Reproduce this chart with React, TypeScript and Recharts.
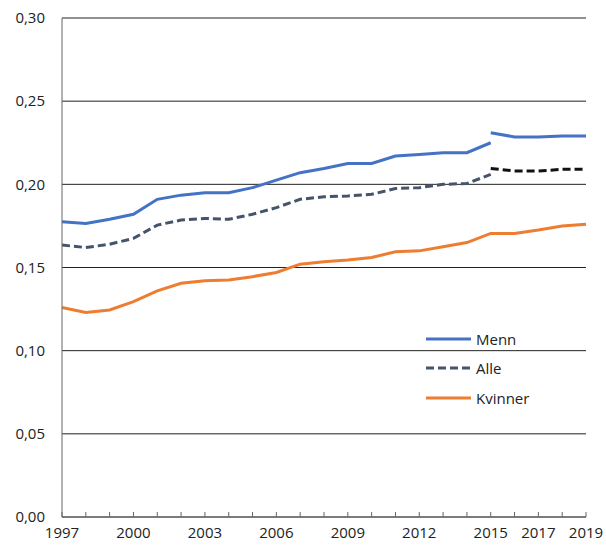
import React from 'react';
import { LineChart, Line, XAxis, YAxis, CartesianGrid } from 'recharts';

// Categories and tick values
const years = [
  1997, 1998, 1999, 2000, 2001, 2002, 2003, 2004, 2005, 2006, 2007, 2008,
  2009, 2010, 2011, 2012, 2013, 2014, 2015, 2016, 2017, 2018, 2019,
];
const labelledYears = [1997, 2000, 2003, 2006, 2009, 2012, 2015, 2017, 2019];
const yTicks = [0, 0.05, 0.1, 0.15, 0.2, 0.25, 0.3];

// Series values (break in the series at 2015)
const mennBefore = [
  0.1775, 0.1765, 0.179, 0.182, 0.191, 0.1935, 0.195, 0.195, 0.198, 0.2025,
  0.207, 0.2095, 0.2125, 0.2125, 0.217, 0.218, 0.219, 0.219, 0.225,
];
const mennAfter = [0.231, 0.2285, 0.2285, 0.229, 0.229];
const alleBefore = [
  0.1635, 0.162, 0.164, 0.1675, 0.1755, 0.1785, 0.1795, 0.179, 0.182, 0.186,
  0.191, 0.1925, 0.193, 0.194, 0.1975, 0.198, 0.2, 0.2005, 0.206,
];
const alleAfter = [0.2095, 0.208, 0.208, 0.209, 0.209];
const kvinner = [
  0.126, 0.123, 0.1245, 0.1295, 0.136, 0.1405, 0.142, 0.1425, 0.1445, 0.147,
  0.152, 0.1535, 0.1545, 0.156, 0.1595, 0.16, 0.1625, 0.165, 0.1705, 0.1705,
  0.1725, 0.175, 0.176,
];

const breakIndex = mennBefore.length - 1;

const data = years.map((year, i) => ({
  year,
  mennBefore: i <= breakIndex ? mennBefore[i] : null,
  mennAfter: i >= breakIndex ? mennAfter[i - breakIndex] : null,
  alleBefore: i <= breakIndex ? alleBefore[i] : null,
  alleAfter: i >= breakIndex ? alleAfter[i - breakIndex] : null,
  kvinner: kvinner[i],
}));

const FONT = '"Open Sans", sans-serif';

const legendItems = [
  { name: 'Menn', color: '#4472c4', dash: undefined },
  { name: 'Alle', color: '#44546a', dash: '8 4' },
  { name: 'Kvinner', color: '#ed7d31', dash: undefined },
];

// legend drawn over the plot area, like the original
const ChartLegend = () => (
  <div style={{ position: 'absolute', left: 426, top: 324, fontFamily: FONT, fontSize: 15, color: '#222' }}>
    {legendItems.map((item) => (
      <div key={item.name} style={{ display: 'flex', alignItems: 'center', height: 29.5 }}>
        <svg width={48} height={6} style={{ marginRight: 2 }}>
          <line x1={0} y1={3} x2={45} y2={3} stroke={item.color} strokeWidth={3} strokeDasharray={item.dash} />
        </svg>
        <span>{item.name}</span>
      </div>
    ))}
  </div>
);

const XTick = (props: any) => {
  const { x, y, payload } = props;
  if (!labelledYears.includes(payload.value)) return <g />;
  return (
    <text x={x} y={y} dy="0.71em" textAnchor="middle" fill="#222" fontSize={15} fontFamily={FONT}>
      {payload.value}
    </text>
  );
};

export default function App() {
  return (
    <div style={{ position: 'absolute', left: 0, top: 0, width: 606, height: 545 }}>
      <LineChart width={606} height={545} data={data} margin={{ top: 18, right: 20, left: 0, bottom: 0 }}>
        <CartesianGrid vertical={false} stroke="#222" strokeWidth={1} />
        <XAxis
          dataKey="year"
          type="number"
          domain={[1997, 2019]}
          ticks={years}
          interval={0}
          height={28}
          stroke="#666"
          tickSize={-5}
          tickMargin={15}
          tick={<XTick />}
        />
        <YAxis
          domain={[0, 0.3]}
          ticks={yTicks}
          width={62}
          stroke="#666"
          tickLine={false}
          tickSize={0}
          tickMargin={17}
          tickFormatter={(v: number) => v.toFixed(2).replace('.', ',')}
          tick={{ fill: '#222', fontSize: 15, fontFamily: FONT }}
        />
        <Line dataKey="mennBefore" name="Menn" stroke="#4472c4" strokeWidth={3} dot={false} type="linear" isAnimationActive={false} />
        <Line dataKey="mennAfter" stroke="#4472c4" strokeWidth={3} dot={false} type="linear" isAnimationActive={false} />
        <Line dataKey="alleBefore" name="Alle" stroke="#44546a" strokeWidth={3} strokeDasharray="8 4" dot={false} type="linear" isAnimationActive={false} />
        <Line dataKey="alleAfter" stroke="#111" strokeWidth={3} strokeDasharray="8 4" dot={false} type="linear" isAnimationActive={false} />
        <Line dataKey="kvinner" name="Kvinner" stroke="#ed7d31" strokeWidth={3} dot={false} type="linear" isAnimationActive={false} />
      </LineChart>
      <ChartLegend />
    </div>
  );
}
